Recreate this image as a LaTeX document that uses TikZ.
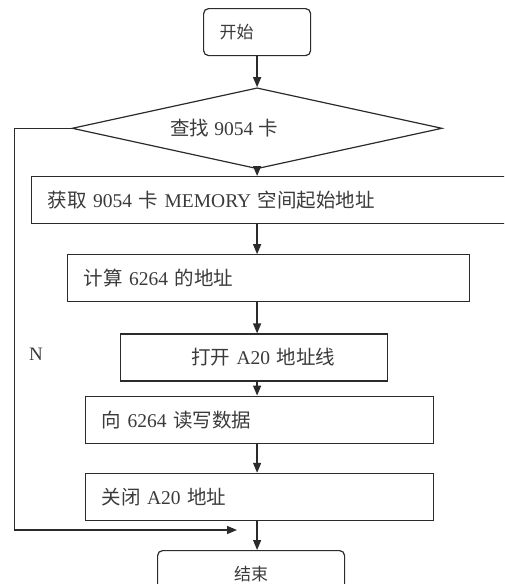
\documentclass[tikz,border=0pt]{standalone}
\usepackage{fontspec}
\setmainfont{Liberation Serif}
\newfontfamily\cjk{Noto Sans CJK SC}
\usetikzlibrary{arrows.meta,positioning,shapes.geometric}
\definecolor{inkgray}{HTML}{2B2B2B}
\definecolor{textgray}{HTML}{3A3A3A}
\newcommand{\zh}[1]{{\cjk #1}}

\begin{document}
\begin{tikzpicture}[
  x=1pt, y=1pt,
  font=\fontsize{19.5}{23}\selectfont,
  >=Triangle,
  flowbox/.style={
    draw=inkgray,
    line width=1.2pt,
    rectangle,
    minimum height=47pt,
    inner xsep=16pt,
    inner ysep=0pt,
    align=left,
    text=textgray
  },
  termbox/.style={
    flowbox,
    rounded corners=5pt,
    font=\fontsize{17}{20}\selectfont
  },
  decisionbox/.style={
    draw=inkgray,
    line width=1.2pt,
    diamond,
    aspect=4.6,
    minimum width=370pt,
    minimum height=81pt,
    inner sep=0pt,
    text=textgray
  },
  flowarrow/.style={
    -{Triangle[length=10pt,width=8pt]},
    line width=1.3pt,
    draw=inkgray
  }
]
  \useasboundingbox (0,0) rectangle (504,-584);
  \clip (0,0) rectangle (504,-584);

  % --- start and card search ---
  \node[termbox, text width=75pt, anchor=north west] (start) at (203,-8) {\zh{开始}};

  \node[decisionbox, below=31pt of start.south] (find) {\zh{查找} 9054 \zh{卡}\hspace*{66pt}};

  % --- address setup ---
  \node[flowbox, text width=457pt, anchor=north west] (getaddr) at (31,-176) {
    \zh{获取} 9054 \zh{卡} MEMORY \zh{空间起始地址}
  };

  \node[flowbox, text width=370pt, below=30pt of getaddr.south west, anchor=north west, xshift=36pt] (calcaddr) {
    \zh{计算} 6264 \zh{的地址}
  };

  \node[flowbox, text width=235pt, align=center, below=31pt of calcaddr.south west, anchor=north west, xshift=53pt] (a20on) {
    \hspace*{18pt}\zh{打开} A20 \zh{地址线}
  };

  % --- data access ---
  \node[flowbox, text width=316pt, below=14pt of a20on.south west, anchor=north west, xshift=-35pt] (rwdata) {
    \zh{向} 6264 \zh{读写数据}
  };

  \node[flowbox, text width=316pt, below=29pt of rwdata.south west, anchor=north west] (a20off) {
    \zh{关闭} A20 \zh{地址}
  };

  \node[termbox, text width=155pt, align=center, below=29pt of a20off.south west, anchor=north west, xshift=72pt] (finish) {\zh{结束}};

  % Connecting Arrows
  \draw[flowarrow] (start.south) -- (find.north);
  \draw[flowarrow] (find.south) -- (find.south |- getaddr.north);
  \draw[flowarrow] (find.south |- getaddr.south) -- (find.south |- calcaddr.north);
  \draw[flowarrow] (find.south |- calcaddr.south) -- (find.south |- a20on.north);
  \draw[flowarrow] (find.south |- a20on.south) -- (find.south |- rwdata.north);
  \draw[flowarrow] (find.south |- rwdata.south) -- (find.south |- a20off.north);
  \draw[flowarrow] (find.south |- a20off.south) -- (find.south |- finish.north);

  % "N" branch: card not found, skip to the end
  \coordinate (skipend) at (237,-530);
  \draw[flowarrow] (find.west) -- ++(-57,0) |- (skipend);
  \node[text=textgray, font=\fontsize{19}{22}\selectfont] (nlabel) at (36,-354) {N};

\end{tikzpicture}
\end{document}
